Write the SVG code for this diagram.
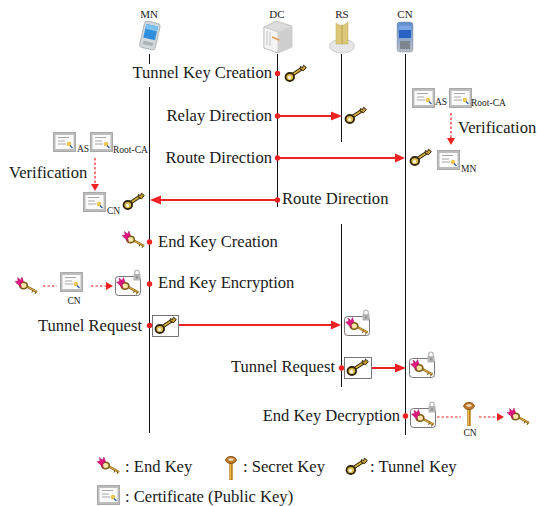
<svg xmlns="http://www.w3.org/2000/svg" width="537" height="506" viewBox="0 0 537 506">
<style>
text{font-family:"Liberation Serif","Times New Roman",serif;fill:#1a1a1a}
.l{font-size:16.6px}
.s{font-size:9.5px}
.h{font-size:11px}
.e{text-anchor:end}
.m{text-anchor:middle}
.life{stroke:#111;stroke-width:1;fill:none}
.flow{stroke:#ee2222;stroke-width:2;fill:none}
.dash{stroke:#ee2222;stroke-width:1.2;stroke-dasharray:2.5 2;fill:none}
.dot{fill:#ee2222}
.head{fill:#ee2222}
.box{fill:#fff;stroke:#555;stroke-width:.8}
</style>
<defs>
<linearGradient id="cnbody" x1="0" y1="0" x2="0" y2="1"><stop offset="0" stop-color="#5f8fd0"/><stop offset="1" stop-color="#b8bcc4"/></linearGradient>
<symbol id="tk" viewBox="0 0 21 17" width="21" height="17" overflow="visible">
<path d="M7 10L17 3.500" stroke="#2e2408" stroke-width="3.600" fill="none"/>
<path d="M7 10L17 3.500" stroke="#d9b23c" stroke-width="1.500" fill="none"/>
<path d="M15 4L15.500 1.500L17.500 2.700L18.500 .2L21.300 2.500L18.500 5.800Z" fill="#c9a030" stroke="#2e2408" stroke-width="1"/>
<ellipse cx="4.800" cy="12" rx="4.300" ry="4" fill="#e0bf50" stroke="#2e2408" stroke-width="1.800"/>
<circle cx="4.500" cy="12.500" r="1.500" fill="#fff"/>
</symbol>
<symbol id="ek" viewBox="0 0 24 17" width="24" height="17" overflow="visible">
<path d="M9 8L22 15" stroke="#7a5a10" stroke-width="2.400" fill="none"/>
<path d="M9 8L22 15" stroke="#e0b040" stroke-width="1.200" fill="none"/>
<path d="M18 13L17 15.500M21 14.500L20 17" stroke="#7a5a10" stroke-width="1"/>
<ellipse cx="8.500" cy="8.500" rx="3.800" ry="3.300" fill="#f5e6a8" stroke="#7a5a10" stroke-width="1.600"/>
<path d="M0 4.500L3 4L2.500 .5L5.500 3L7 0L8.500 4.500L5.500 7L6.500 10.500L2.500 7Z" fill="#e0157f" stroke="#8a0c50" stroke-width=".4"/>
</symbol>
<symbol id="sk" viewBox="0 0 12 25" width="12" height="25" overflow="visible">
<path d="M6 7V24" stroke="#b8821e" stroke-width="3.500" fill="none"/>
<path d="M5.500 8V23" stroke="#eebc50" stroke-width="1" fill="none"/>
<ellipse cx="6" cy="4" rx="5.300" ry="3.500" fill="#c07a28" stroke="#8a5518" stroke-width="1"/>
<ellipse cx="6" cy="3.600" rx="2.800" ry="1.300" fill="#e8d8c0"/>
</symbol>
<symbol id="ct" viewBox="0 0 23 20" width="23" height="20" overflow="visible">
<rect x=".5" y=".5" width="22" height="19" fill="#bdbdbd" stroke="#a8a8a8"/>
<rect x="2.500" y="3" width="18" height="14" fill="#fbfbfb"/>
<path d="M5 5.500H16M5 9H12M5 12H13" stroke="#a8a8a8" stroke-width="1" fill="none"/>
<circle cx="16" cy="12" r="2.300" fill="#efc650"/>
<path d="M17 13.500L19.500 16" stroke="#2a5fa8" stroke-width="1.300"/>
</symbol>
<symbol id="lk" viewBox="0 0 8 12" width="8" height="12" overflow="visible">
<path d="M1.800 5V3.200a2.200 2.200 0 0 1 4.400 0V5" stroke="#b5b5b5" stroke-width="1.200" fill="none"/>
<rect x=".5" y="5" width="7" height="6.500" fill="#b5b5b5"/>
<rect x="3.500" y="7" width="1" height="2.500" fill="#777"/>
</symbol>
<symbol id="ebox" viewBox="0 0 26 27" width="26" height="27" overflow="visible">
<rect x=".5" y="7.500" width="25" height="19" rx="3" fill="#fff" stroke="#555" stroke-width=".8"/>
<use href="#ek" x="1.500" y="8.500" width="24" height="17"/>
<use href="#lk" x="18" y="0"/>
</symbol>
</defs>

<g id="connectors">
<path class="life" d="M149.500 54V64M149.500 87V433"/>
<path class="life" d="M277.500 54V207"/>
<path class="life" d="M341.500 54V142M341.500 224V387"/>
<path class="life" d="M405.500 54V435"/>
<path class="flow" d="M278 116H333"/><path class="head" d="M342 116L331 111.500V120.500Z"/>
<path class="flow" d="M278 158H397"/><path class="head" d="M405 158L395 153.500V162.500Z"/>
<path class="flow" d="M277 200H158"/><path class="head" d="M150 200L161 195.500V204.500Z"/>
<path class="flow" d="M179 325H333"/><path class="head" d="M341 325L331 320.500V329.500Z"/>
<path class="flow" d="M372 368H397"/><path class="head" d="M406 368L395 363.500V372.500Z"/>
<path class="dash" d="M451 113V138"/><path class="head" d="M451 145L447 138H455Z"/>
<path class="dash" d="M95 158V184"/><path class="head" d="M95 191L91 184H99Z"/>
<path class="dash" d="M43 286H57"/>
<path class="dash" d="M91 286H107"/><path class="head" d="M113 286L106 282V290Z"/>
<path class="dash" d="M437 417H461"/>
<path class="dash" d="M479 417H497"/><path class="head" d="M504 417L497 413V421Z"/>
<circle class="dot" cx="277.500" cy="73.500" r="2.700"/>
<circle class="dot" cx="277.500" cy="116" r="2.700"/>
<circle class="dot" cx="277.500" cy="158" r="2.700"/>
<circle class="dot" cx="277.500" cy="200" r="2.700"/>
<circle class="dot" cx="149.500" cy="242" r="2.700"/>
<circle class="dot" cx="149.500" cy="284" r="2.700"/>
<circle class="dot" cx="149.500" cy="325.500" r="2.700"/>
<circle class="dot" cx="341.500" cy="368" r="2.700"/>
<circle class="dot" cx="405.500" cy="416" r="2.700"/>
</g>

<g id="MN"><text class="h m" x="149" y="18">MN</text>
<g transform="rotate(13 150 35)"><rect x="142" y="22" width="16" height="27" rx="3" fill="#d2d8dc" stroke="#9aa3a8" stroke-width=".7"/><rect x="144" y="25" width="12" height="14" fill="#2f8fdc"/><rect x="144" y="25" width="12" height="5" fill="#7cc0ee"/><rect x="145" y="42" width="10" height="3.500" fill="#aab2b6"/></g></g>
<g id="DC"><text class="h m" x="277" y="18">DC</text>
<path d="M264 27L276 21L292 26L292 47L278 53L264 48Z" fill="#dcdcdc" stroke="#aaa" stroke-width=".6"/>
<path d="M264 27L278 32V53L264 48Z" fill="#f4f4f4" stroke="#b4b4b4" stroke-width=".6"/>
<path d="M278 32L292 26V47L278 53Z" fill="#cfcfcf"/>
<path d="M272 37L279 40" stroke="#e39a4e" stroke-width="1.500"/>
<path d="M267 31V45M270 32V46" stroke="#c4c4c4" stroke-width="1"/></g>
<g id="RS"><text class="h m" x="342" y="18">RS</text>
<ellipse cx="342" cy="46" rx="12.500" ry="7" fill="#e6e6e6" stroke="#bbb" stroke-width=".7"/>
<path d="M336 23L339 25L344 25L348 22V44H336Z" fill="#dcc878" stroke="#bca850" stroke-width=".5"/>
<path d="M342 25V44" stroke="#b5a24c" stroke-width="1"/></g>
<g id="CN"><text class="h m" x="405" y="18">CN</text>
<rect x="397" y="22" width="16" height="30" rx="3" fill="url(#cnbody)" stroke="#8492a0" stroke-width=".5"/>
<rect x="399" y="26" width="12" height="12" fill="#2a62c4"/><rect x="399" y="26" width="12" height="4" fill="#7aa6e6"/>
<rect x="400" y="41" width="10" height="8" fill="#7d8690"/></g>

<g id="step-tunnel-key-creation"><text class="l e" x="272" y="78">Tunnel Key Creation</text><use href="#tk" x="285" y="65"/></g>
<g id="step-relay"><text class="l e" x="272" y="121">Relay Direction</text><use href="#tk" x="345" y="107"/></g>
<g id="step-route-cn"><text class="l e" x="272" y="163">Route Direction</text><use href="#tk" x="410" y="149"/>
<use href="#ct" x="412" y="88"/><text class="s" x="435" y="105">AS</text>
<use href="#ct" x="449" y="88"/><text class="s" x="471" y="106">Root-CA</text>
<text class="l" x="458" y="133">Verification</text>
<use href="#ct" x="437" y="150"/><text class="s" x="461" y="172">MN</text></g>
<g id="step-route-mn"><text class="l" x="282" y="204">Route Direction</text><use href="#tk" x="123" y="193"/>
<use href="#ct" x="53" y="132"/><text class="s" x="77" y="152">AS</text>
<use href="#ct" x="90" y="132"/><text class="s" x="113" y="153">Root-CA</text>
<text class="l" x="9" y="178">Verification</text>
<use href="#ct" x="83" y="192"/><text class="s" x="107" y="214">CN</text></g>
<g id="step-end-key-creation"><text class="l" x="158" y="247">End Key Creation</text><use href="#ek" x="122" y="231"/></g>
<g id="step-end-key-encryption"><text class="l" x="158" y="288">End Key Encryption</text>
<use href="#ek" x="15" y="277"/><use href="#ct" x="60" y="272"/><text class="s m" x="74" y="304">CN</text>
<use href="#ebox" x="115" y="269"/></g>
<g id="step-tunnel-request-1"><text class="l e" x="142" y="331">Tunnel Request</text>
<rect class="box" x="152.500" y="315.500" width="26" height="21"/><use href="#tk" x="155" y="317"/>
<use href="#ebox" x="344" y="309"/></g>
<g id="step-tunnel-request-2"><text class="l e" x="335" y="372">Tunnel Request</text>
<rect class="box" x="344.500" y="357.500" width="27" height="21"/><use href="#tk" x="347" y="359"/>
<use href="#ebox" x="409" y="351"/></g>
<g id="step-end-key-decryption"><text class="l e" x="400" y="421">End Key Decryption</text>
<use href="#ebox" x="410" y="401"/><use href="#sk" x="463" y="402"/><text class="s m" x="470" y="436">CN</text>
<use href="#ek" x="507" y="408"/></g>
<g id="legend">
<use href="#ek" x="97" y="457"/><text class="l" x="125" y="472">: End Key</text>
<use href="#sk" x="225" y="456"/><text class="l" x="243" y="472">: Secret Key</text>
<use href="#tk" x="346" y="458"/><text class="l" x="370" y="472">: Tunnel Key</text>
<use href="#ct" x="97" y="485"/><text class="l" x="125" y="502">: Certificate (Public Key)</text>
</g>
</svg>
